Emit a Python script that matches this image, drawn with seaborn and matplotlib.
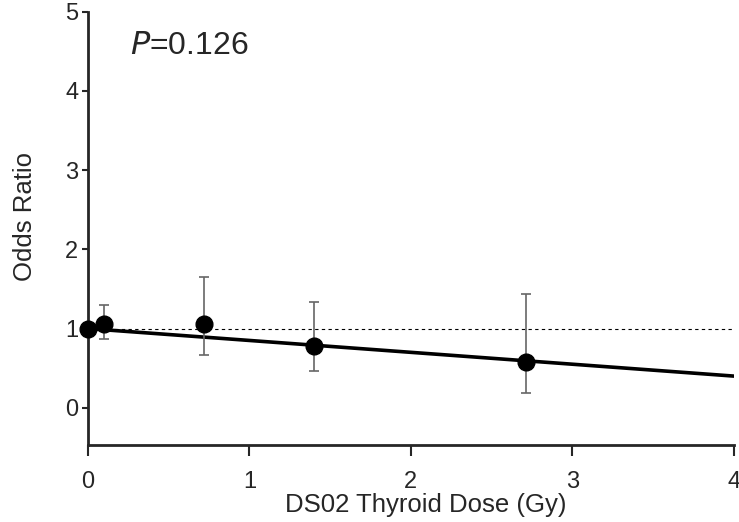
import matplotlib
matplotlib.use("Agg")
import matplotlib.pyplot as plt
import seaborn as sns
import pandas as pd
import numpy as np

# data
dose = [0.0, 0.1, 0.72, 1.40, 2.71]
odds = [1.0, 1.06, 1.06, 0.78, 0.58]
ci_low = [1.0, 0.87, 0.67, 0.47, 0.19]
ci_high = [1.0, 1.30, 1.65, 1.34, 1.44]
fit_dose = [0.0, 4.0]
fit_or = [1.0, 0.40]
p_text = "=0.126"

sns.set_style("ticks")
plt.rcParams['font.family'] = ['Liberation Sans', 'DejaVu Sans']

df = pd.DataFrame({'dose': dose, 'odds': odds})
fit = pd.DataFrame({'dose': fit_dose, 'odds': fit_or})

fig = plt.figure(figsize=(7.39, 5.22), dpi=100)
ax = fig.add_axes([0.119, 0.1475, 0.874, 0.83])

# reference line at OR=1
ax.axhline(1, color='black', lw=0.8, ls=(0, (3, 3)), zorder=1)

# fitted line
sns.lineplot(data=fit, x='dose', y='odds', color='black', lw=2.6, ax=ax, zorder=2)

# error bars
err = [np.array(odds) - np.array(ci_low), np.array(ci_high) - np.array(odds)]
ax.errorbar(dose, odds, yerr=err, fmt='none', ecolor='#666666', elinewidth=1.2,
            capsize=3.5, capthick=1.2, zorder=3)

sns.scatterplot(data=df, x='dose', y='odds', color='black', s=145, edgecolor='black',
                linewidth=1, ax=ax, zorder=4, clip_on=False)

ax.set_xlim(0, 4)
ax.set_ylim(-0.47, 5)
ax.set_xticks([0, 1, 2, 3, 4])
ax.set_yticks([0, 1, 2, 3, 4, 5])
ax.tick_params(labelsize=17, width=1.5)
ax.tick_params(axis='x', length=8, pad=11)
ax.tick_params(axis='y', length=4, pad=3)
for s in ['left', 'bottom']:
    ax.spines[s].set_linewidth(2)
sns.despine(ax=ax)
ax.spines['left'].set_bounds(-0.47, 5)

ax.set_xlabel("DS02 Thyroid Dose (Gy)", fontsize=18.5, va='center')
ax.set_ylabel("Odds Ratio", fontsize=18.5, va='center')
ax.xaxis.set_label_coords(0.523, -0.139)
ax.yaxis.set_label_coords(-0.098, 0.527)

ax.text(0.26, 4.57, "$\\it{P}$" + p_text, fontsize=23, va='center', ha='left')

fig.savefig("out.png", dpi=100)
